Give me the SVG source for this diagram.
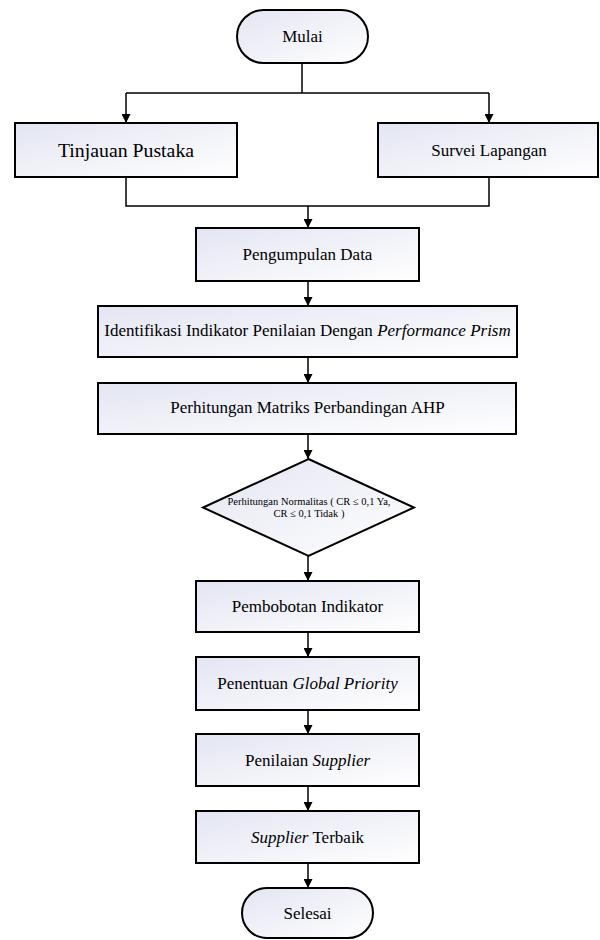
<svg xmlns="http://www.w3.org/2000/svg" width="600" height="940" viewBox="0 0 600 940">
<defs>
<linearGradient id="g" x1="0" y1="0" x2="1" y2="1">
<stop offset="0" stop-color="#e3e5f2"/>
<stop offset="1" stop-color="#ffffff"/>
</linearGradient>
<marker id="ah" viewBox="0 0 10 10" refX="10" refY="5" markerWidth="9" markerHeight="9" markerUnits="userSpaceOnUse" orient="auto">
<path d="M0,0 L10,5 L0,10 z" fill="#000"/>
</marker>
</defs>
<style>
.n{fill:url(#g);stroke:#000;stroke-width:2}
.t{font-family:"Liberation Serif","Times New Roman",serif;font-size:17px;fill:#000;text-anchor:middle}
.s{font-size:10.5px}
.c{fill:none;stroke:#000;stroke-width:1.5}
.a{marker-end:url(#ah)}
</style>
<rect width="600" height="940" fill="#fff"/>
<g id="connectors">
<path class="c" d="M302,63 V93 M126,93 H489"/>
<path class="c a" d="M126,93 V123"/>
<path class="c a" d="M489,93 V123"/>
<path class="c" d="M126,177 V206 H489 V177"/>
<path class="c a" d="M308,206 V228"/>
<path class="c a" d="M308,281 V306"/>
<path class="c a" d="M308,357 V383"/>
<path class="c a" d="M308,434 V459"/>
<path class="c a" d="M308,556 V581"/>
<path class="c a" d="M308,632 V657"/>
<path class="c a" d="M308,710 V734"/>
<path class="c a" d="M308,786 V811"/>
<path class="c a" d="M308,863 V888"/>
</g>
<g id="mulai">
<rect class="n" x="237" y="10" width="131" height="53" rx="26.5"/>
<text class="t" x="302.5" y="42">Mulai</text>
</g>
<g id="tinjauan">
<rect class="n" x="15" y="123" width="222" height="54"/>
<text class="t" x="126" y="156.5" style="font-size:19.8px">Tinjauan Pustaka</text>
</g>
<g id="survei">
<rect class="n" x="378" y="123" width="220" height="54"/>
<text class="t" x="489" y="155.5">Survei Lapangan</text>
</g>
<g id="pengumpulan">
<rect class="n" x="196" y="228" width="223" height="53"/>
<text class="t" x="307.5" y="260">Pengumpulan Data</text>
</g>
<g id="identifikasi">
<rect class="n" x="98" y="306" width="419" height="51"/>
<text class="t" x="307.5" y="336">Identifikasi Indikator Penilaian Dengan <tspan font-style="italic">Performance Prism</tspan></text>
</g>
<g id="perhitungan">
<rect class="n" x="98" y="383" width="418" height="51"/>
<text class="t" x="307.5" y="413">Perhitungan Matriks Perbandingan AHP</text>
</g>
<g id="normalitas">
<polygon class="n" points="308.5,459 414,507.5 308.5,556 203,507.5"/>
<text class="t s" x="309" y="505">Perhitungan Normalitas ( CR ≤ 0,1 Ya,</text>
<text class="t s" x="309" y="516.5">CR ≤ 0,1 Tidak )</text>
</g>
<g id="pembobotan">
<rect class="n" x="196" y="581" width="223" height="51"/>
<text class="t" x="307.5" y="612">Pembobotan Indikator</text>
</g>
<g id="penentuan">
<rect class="n" x="196" y="657" width="223" height="53"/>
<text class="t" x="307.5" y="689">Penentuan <tspan font-style="italic">Global Priority</tspan></text>
</g>
<g id="penilaian">
<rect class="n" x="196" y="734" width="223" height="52"/>
<text class="t" x="307.5" y="765.5">Penilaian <tspan font-style="italic">Supplier</tspan></text>
</g>
<g id="terbaik">
<rect class="n" x="196" y="811" width="223" height="52"/>
<text class="t" x="307.5" y="843"><tspan font-style="italic">Supplier</tspan> Terbaik</text>
</g>
<g id="selesai">
<rect class="n" x="242" y="888" width="131" height="50" rx="25"/>
<text class="t" x="307.5" y="919">Selesai</text>
</g>
</svg>
